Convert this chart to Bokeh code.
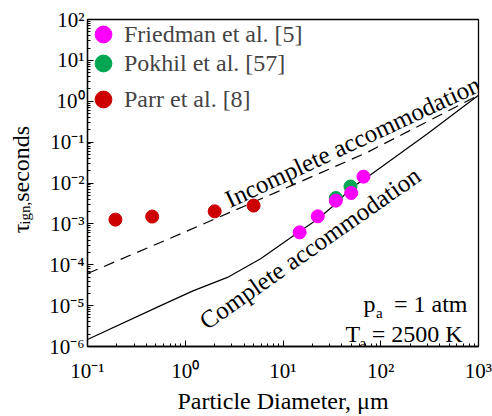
from bokeh.plotting import figure
from bokeh.models import FixedTicker, Legend, LegendItem, Label, Range1d
from bokeh.layouts import row
from bokeh.embed import file_html
from bokeh.resources import INLINE

# ---- data ----
friedman_d = [14.8, 22.7, 34.7, 49.9, 66.6]
friedman_t = [6.2e-4, 1.53e-3, 3.7e-3, 5.7e-3, 1.43e-2]
pokhil_d = [34.7, 49.0]
pokhil_t = [4.3e-3, 8.2e-3]
parr_d = [0.193, 0.459, 2.0, 5.0]
parr_t = [1.27e-3, 1.51e-3, 2.03e-3, 2.8e-3]

complete_d = [0.1, 0.56, 1.2, 2.7, 5.9, 12.9, 22.7, 34.7, 49.0, 72.6, 298.0, 1000.0]
complete_t = [1.48e-6, 1.0e-5, 2.3e-5, 4.9e-5, 1.4e-4, 5.2e-4, 1.32e-3, 3.1e-3, 7.3e-3, 1.38e-2, 0.158, 1.4]
incomplete_d = [0.1, 1.0, 10.0, 72.6, 1000.0]
incomplete_t = [6.1e-5, 6.4e-4, 7.0e-3, 5.6e-2, 1.4]

x_ticks = [0.1, 1, 10, 100, 1000]
x_tick_labels = ["10\u207b\u00b9", "10\u2070", "10\u00b9", "10\u00b2", "10\u00b3"]
y_ticks = [1e-6, 1e-5, 1e-4, 1e-3, 1e-2, 1e-1, 1, 10, 100]
y_tick_labels = ["10\u207b\u2076", "10\u207b\u2075", "10\u207b\u2074", "10\u207b\u00b3",
                 "10\u207b\u00b2", "10\u207b\u00b9", "10\u2070", "10\u00b9", "10\u00b2"]

FONT = "Liberation Serif"
W, H = 492, 416
TW = 45  # width of the strip holding the vertical axis title

# frame geometry in window pixels (for placing text annotations)
FL, FR, FT, FB = 87.0, 478.0, 19.0, 346.0


def dx(px):
    return 10 ** (-1 + (px - FL) / (FR - FL) * 4)


def dy(py):
    return 10 ** (2 - (py - FT) / (FB - FT) * 8)


p = figure(width=W - TW, height=H, x_axis_type="log", y_axis_type="log",
           x_range=(0.1, 1000), y_range=(1e-6, 100),
           output_backend="svg", toolbar_location=None,
           min_border_left=int(FL) - TW, min_border_right=W - int(FR),
           min_border_top=int(FT), min_border_bottom=H - int(FB))
p.xgrid.visible = False
p.ygrid.visible = False
p.outline_line_color = "black"
p.outline_line_width = 1.3
p.background_fill_color = "white"
p.border_fill_color = "white"

minor = [m * 10 ** e for e in range(-6, 3) for m in range(2, 10)]
p.xaxis.ticker = FixedTicker(ticks=x_ticks, minor_ticks=[v for v in minor if 0.1 < v < 1000])
p.yaxis.ticker = FixedTicker(ticks=y_ticks, minor_ticks=[v for v in minor if 1e-6 < v < 100])
p.xaxis.major_label_overrides = dict(zip(x_ticks, x_tick_labels))
p.yaxis.major_label_overrides = dict(zip(y_ticks, y_tick_labels))

for ax in (p.xaxis[0], p.yaxis[0]):
    ax.major_tick_in = 6
    ax.major_tick_out = 0
    ax.minor_tick_in = 3
    ax.minor_tick_out = 0
    ax.major_tick_line_color = "black"
    ax.minor_tick_line_color = "black"
    ax.axis_line_color = "black"
    ax.axis_line_width = 1.3
    ax.major_label_text_font = FONT
    ax.major_label_text_font_size = "21px"
    ax.major_label_text_color = "black"
p.xaxis.major_label_standoff = 12
p.yaxis.major_label_standoff = 3
p.xaxis.axis_label = "Particle Diameter, \u03bcm"
p.xaxis.axis_label_text_font = FONT
p.xaxis.axis_label_text_font_size = "24px"
p.xaxis.axis_label_text_font_style = "normal"
p.xaxis.axis_label_text_color = "black"
p.xaxis.axis_label_standoff = 2

p.line(incomplete_d, incomplete_t, line_color="black", line_width=1.2, line_dash="11 7")
p.line(complete_d, complete_t, line_color="black", line_width=1.2)

r_parr = p.scatter(parr_d, parr_t, size=13, color="#CC0000")
r_pokhil = p.scatter(pokhil_d, pokhil_t, size=13, color="#00A651")
r_fried = p.scatter(friedman_d, friedman_t, size=13, color="#FF00FF")

for name, rend, vy in (("Friedman et al. [5]", r_fried, 291),
                       ("Pokhil et al. [57]", r_pokhil, 262),
                       ("Parr et al. [8]", r_parr, 226)):
    lg = Legend(items=[LegendItem(label=name, renderers=[rend])],
                location=(-5, vy), glyph_width=42, glyph_height=42,
                padding=0, margin=0, label_standoff=0,
                border_line_alpha=0, background_fill_alpha=0,
                label_text_font=FONT, label_text_font_size="24px")
    p.add_layout(lg)


def lab(fig, text, x, y, size="24px", angle=0.0, align="left"):
    fig.add_layout(Label(x=x, y=y, text=text, angle=angle, angle_units="deg",
                         text_font=FONT, text_font_size=size, text_align=align,
                         text_baseline="alphabetic", text_color="black"))


lab(p, "Incomplete accommodation", dx(226), dy(200), size="25px", angle=25)
lab(p, "Complete accommodation", dx(201.7), dy(323), size="25px", angle=35)
lab(p, "p", dx(363), dy(303))
lab(p, "a", dx(375.5), dy(312), size="15px")
lab(p, "= 1 atm", dx(467), dy(303), align="right")
lab(p, "T", dx(345), dy(333))
lab(p, "a", dx(359), dy(342), size="15px")
lab(p, "= 2500 K", dx(462), dy(333), align="right")

# strip on the left that carries the vertical axis title (tau with subscript)
t = figure(width=TW, height=H, x_range=Range1d(0, TW), y_range=Range1d(H, 0),
           output_backend="svg", toolbar_location=None,
           x_axis_location=None, y_axis_location=None,
           min_border_left=0, min_border_right=0, min_border_top=0, min_border_bottom=0)
t.xgrid.visible = False
t.ygrid.visible = False
t.outline_line_color = None
t.background_fill_color = "white"
t.border_fill_color = "white"
lab(t, "\u03c4", 20.5, 272, angle=90)
lab(t, "ign,", 24.5, 261, size="15px", angle=90)
lab(t, "seconds", 20.5, 232, angle=90)

layout = row(t, p, spacing=0)
open("out.html", "w").write(file_html(layout, INLINE))
